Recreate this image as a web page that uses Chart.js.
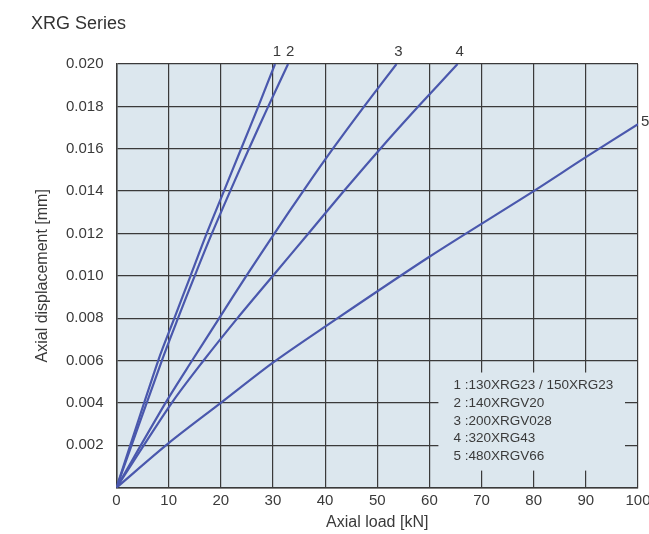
<!DOCTYPE html>
<html>
<head>
<meta charset="utf-8">
<script src="https://cdn.jsdelivr.net/npm/chart.js@4"></script>
<style>
html, body { margin: 0; padding: 0; background: #fff; }
canvas { display: block; }
</style>
</head>
<body>
<canvas id="myGraph" width="649" height="534"></canvas>
<script>
// Axial displacement vs axial load, XRG series

var load1 = [0, 8.0, 11.1, 14.2, 17.3, 20.6, 23.9, 27.2, 30.4];
var disp1 = [0, 0.006, 0.008, 0.010, 0.012, 0.014, 0.016, 0.018, 0.020];

var load2 = [0, 8.7, 11.8, 15.0, 18.3, 21.8, 25.4, 29.1, 32.9];
var disp2 = [0, 0.006, 0.008, 0.010, 0.012, 0.014, 0.016, 0.018, 0.020];

var load3 = [0, 9.4, 14.5, 19.7, 24.9, 30.3, 35.8, 41.5, 47.5, 53.7];
var disp3 = [0, 0.004, 0.006, 0.008, 0.010, 0.012, 0.014, 0.016, 0.018, 0.020];

var load4 = [0, 10.6, 16.7, 23.2, 30.0, 36.8, 43.6, 50.6, 57.9, 65.4];
var disp4 = [0, 0.004, 0.006, 0.008, 0.010, 0.012, 0.014, 0.016, 0.018, 0.020];

var load5 = [0, 10, 20, 30, 40, 60, 80, 90, 100];
var disp5 = [0, 0.0021, 0.0040, 0.0059, 0.0076, 0.0109, 0.0140, 0.0156, 0.01716];

var seriesNames = ["1", "2", "3", "4", "5"];
var legendText = [
  "1 :130XRG23 / 150XRG23",
  "2 :140XRGV20",
  "3 :200XRGV028",
  "4 :320XRG43",
  "5 :480XRGV66"
];

var plotBg = "#dce7ee";
var lineColor = "#4a58ad";
var gridColor = "#3a3a3a";
var textColor = "#3a3a3a";

function toPoints(xs, ys) {
  return xs.map(function(v, i) { return { x: v, y: ys[i] }; });
}

var allSeries = [[load1, disp1], [load2, disp2], [load3, disp3], [load4, disp4], [load5, disp5]];
var datasets = allSeries.map(function(s, i) {
  return {
    label: seriesNames[i],
    data: toPoints(s[0], s[1]),
    borderColor: lineColor,
    borderWidth: 2.2,
    pointRadius: 0,
    fill: false,
    tension: 0.3
  };
});

var extras = {
  id: "extras",
  beforeDraw: function(chart) {
    var a = chart.chartArea;
    var c = chart.ctx;
    c.save();
    c.fillStyle = plotBg;
    c.fillRect(a.left, a.top, a.right - a.left, a.bottom - a.top);
    c.restore();
  },
  beforeDatasetsDraw: function(chart) {
    var xs = chart.scales.x, ys = chart.scales.y, c = chart.ctx;
    var l = xs.getPixelForValue(60) + 9;
    var r = xs.getPixelForValue(100) - 13;
    var t = ys.getPixelForValue(0.006) + 12;
    var b = ys.getPixelForValue(0) - 17;
    c.save();
    c.fillStyle = plotBg;
    c.fillRect(l, t, r - l, b - t);
    c.fillStyle = textColor;
    c.font = "13.5px 'Liberation Sans', Arial, sans-serif";
    c.textBaseline = "middle";
    c.textAlign = "left";
    for (var i = 0; i < legendText.length; i++) {
      c.fillText(legendText[i], l + 15, t + 12.5 + i * 17.9);
    }
    c.restore();
  },
  afterDraw: function(chart) {
    var xs = chart.scales.x, ys = chart.scales.y, c = chart.ctx;
    c.save();
    c.fillStyle = textColor;
    c.font = "15px 'Liberation Sans', Arial, sans-serif";
    c.textBaseline = "middle";
    for (var i = 0; i < allSeries.length; i++) {
      var lx = allSeries[i][0], ly = allSeries[i][1];
      var px = xs.getPixelForValue(lx[lx.length - 1]);
      var py = ys.getPixelForValue(ly[ly.length - 1]);
      if (ly[ly.length - 1] >= 0.020) {
        c.textAlign = "center";
        c.fillText(seriesNames[i], px + 2, py - 12);
      } else {
        c.textAlign = "left";
        c.fillText(seriesNames[i], px + 3, py - 2);
      }
    }
    // chart title
    c.textAlign = "left";
    c.fillStyle = "#333";
    c.font = "18px 'Liberation Sans', Arial, sans-serif";
    c.fillText("XRG Series", 31, 24.5);
    c.restore();
  }
};

var graph = document.getElementById("myGraph").getContext("2d");

new Chart(graph, {
  type: "line",
  data: { datasets: datasets },
  options: {
    responsive: false,
    animation: false,
    layout: { padding: { top: 64, right: 11, left: 0, bottom: 0 } },
    plugins: {
      legend: { display: false },
      tooltip: { enabled: false }
    },
    scales: {
      x: {
        type: "linear",
        min: 0,
        max: 100,
        ticks: {
          stepSize: 10,
          padding: 4,
          maxRotation: 0,
          color: textColor,
          font: { family: "'Liberation Sans', Arial, sans-serif", size: 15 }
        },
        grid: { color: gridColor, lineWidth: 1.2, drawTicks: false },
        border: { color: gridColor, width: 1.5 },
        title: {
          display: true,
          text: "Axial load [kN]",
          color: textColor,
          padding: { top: 0, bottom: 2 },
          font: { family: "'Liberation Sans', Arial, sans-serif", size: 16 }
        },
        afterFit: function(scale) {
          scale.height = 46.4;
          scale.paddingLeft = 0;
          scale.paddingRight = 0;
        }
      },
      y: {
        type: "linear",
        min: 0,
        max: 0.020,
        ticks: {
          stepSize: 0.002,
          padding: 13,
          color: textColor,
          font: { family: "'Liberation Sans', Arial, sans-serif", size: 15 },
          callback: function(v) {
            if (Math.abs(v) < 1e-9) return "";
            return v.toFixed(3);
          }
        },
        grid: { color: gridColor, lineWidth: 1.2, drawTicks: false },
        border: { color: gridColor, width: 1.5 },
        title: {
          display: true,
          text: "Axial displacement [mm]",
          color: textColor,
          padding: { top: 33, bottom: 0 },
          font: { family: "'Liberation Sans', Arial, sans-serif", size: 16 }
        },
        afterFit: function(scale) {
          scale.width = 116.5;
          scale.paddingTop = 0;
          scale.paddingBottom = 0;
        }
      }
    }
  },
  plugins: [extras]
});
</script>
</body>
</html>
